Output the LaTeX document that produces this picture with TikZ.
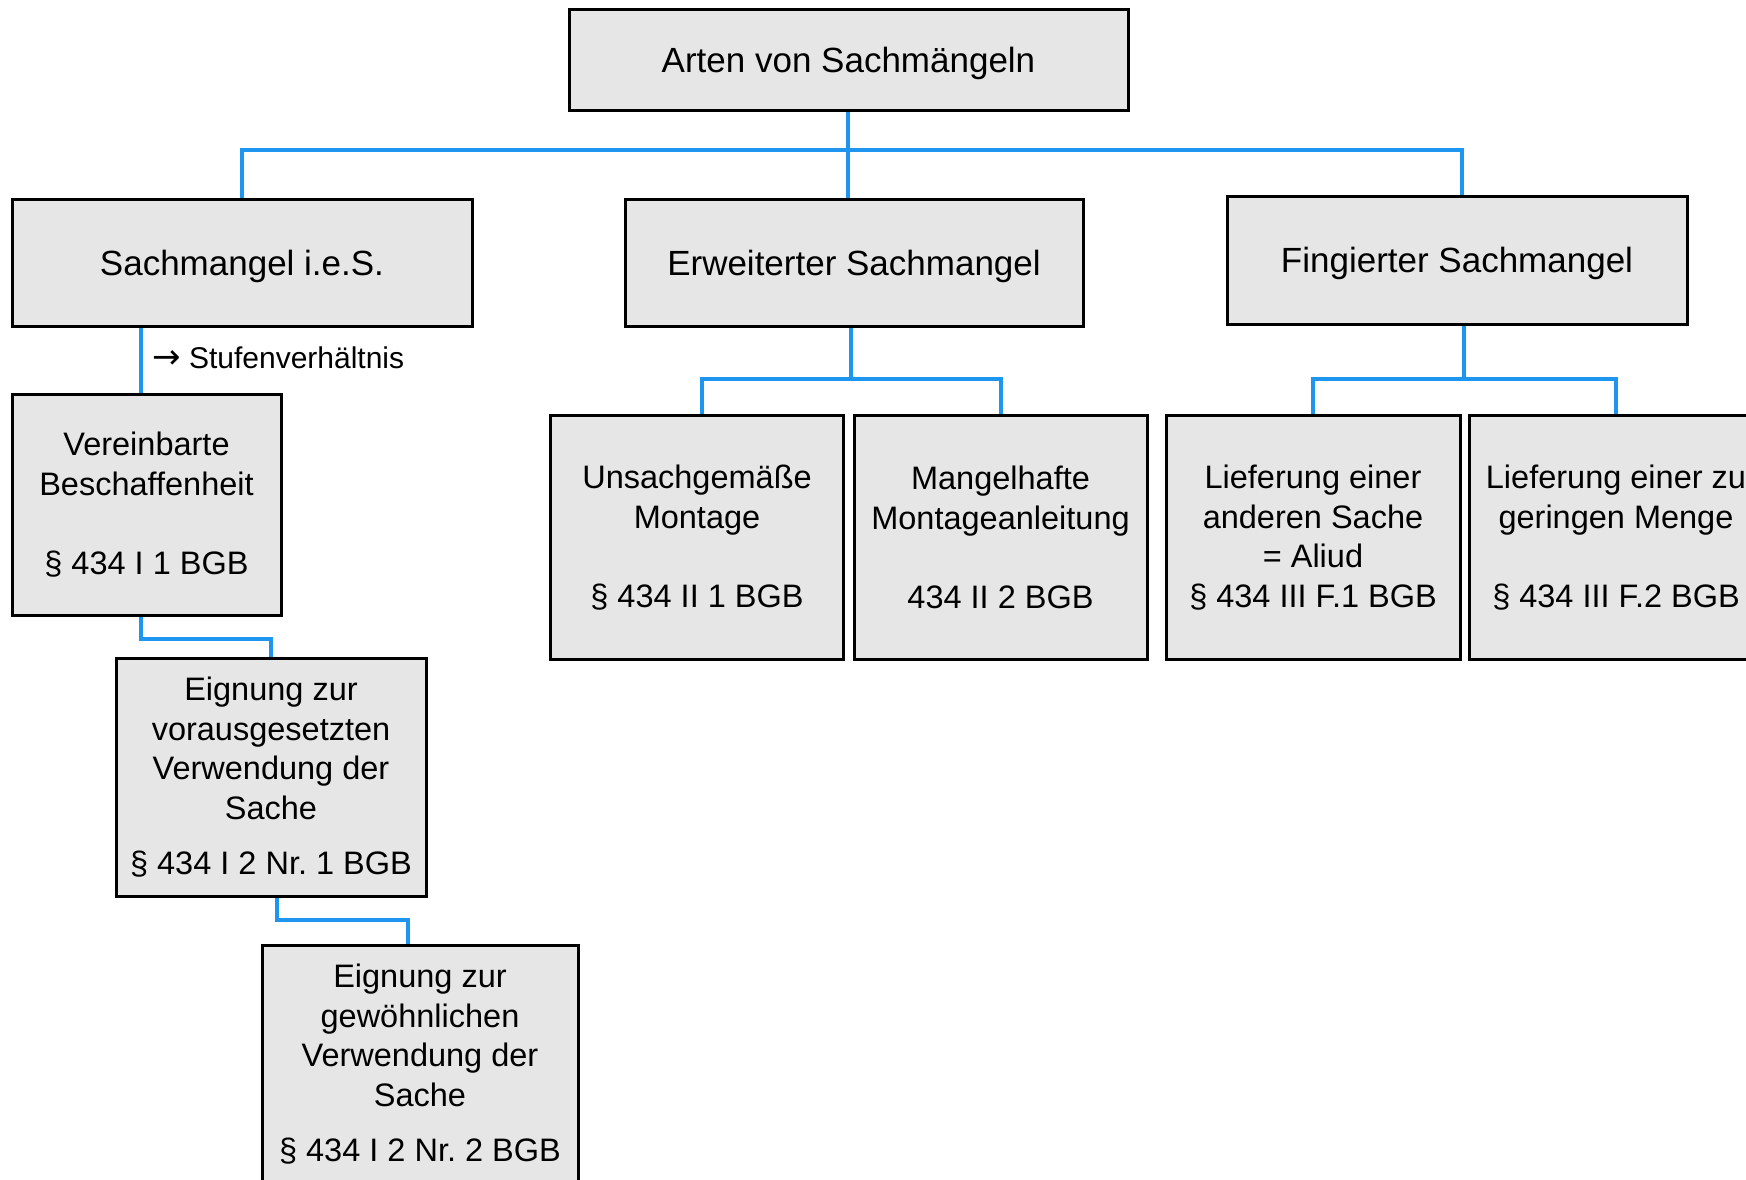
\documentclass[tikz,border=0pt]{standalone}
\usepackage{fontspec}
\setmainfont{Liberation Sans}
\newfontfamily\arrowfont{DejaVu Sans}
\usepackage{tikz}
\usetikzlibrary{positioning}
\usepackage{xcolor}
\frenchspacing
\definecolor{linkblue}{RGB}{30,150,240}
\definecolor{boxgray}{RGB}{230,230,230}
\tikzset{
  box/.style={draw=black, fill=boxgray, line width=3pt, inner sep=0pt, align=center},
  headbox/.style={box, font=\fontsize{35}{42}\selectfont, text depth=0pt},
  subbox/.style={box, font=\fontsize{32.5}{39.5}\selectfont},
  link/.style={draw=linkblue, line width=4pt},
  note/.style={font=\fontsize{30}{36}\selectfont, inner sep=0pt}
}
\newcommand{\sachbox}[7]{%
  % #1 style, #2 name, #3 x, #4 y, #5 width, #6 height, #7 text
  \node[#1, minimum width=#5, minimum height=#6] (#2) at (#3,#4) {#7};
}

\begin{document}
\begin{tikzpicture}[x=1pt, y=-1pt]
  \useasboundingbox (0,0) rectangle (1746,1179);
  % top level
  \sachbox{headbox}{top}{848.5}{59.5}{559}{101}{Arten von Sachmängeln}
  \sachbox{headbox}{sie}{242}{262.5}{460}{127}{Sachmangel i.e.S.}
  \sachbox{headbox}{erw}{854}{262.5}{458}{127}{Erweiterter Sachmangel}
  \sachbox{headbox}{fing}{1457}{260}{460}{128}{Fingierter Sachmangel}
  % left stack
  \sachbox{subbox}{ver}{146.5}{504.5}{269}{221}{Vereinbarte\\Beschaffenheit\\[39.5pt]§ 434 I 1 BGB}
  \sachbox{subbox}{eig1}{271}{777.5}{310}{238}{Eignung zur\\vorausgesetzten\\Verwendung der\\Sache\\[16pt]§ 434 I 2 Nr. 1 BGB}
  \sachbox{subbox}{eig2}{420}{1064.5}{316}{239}{Eignung zur\\gewöhnlichen\\Verwendung der\\Sache\\[16pt]§ 434 I 2 Nr. 2 BGB}
  % middle and right
  \sachbox{subbox}{uns}{697}{537.5}{293}{244}{Unsachgemäße\\Montage\\[39.5pt]§ 434 II 1 BGB}
  \sachbox{subbox}{mang}{1000.5}{537.5}{293}{244}{Mangelhafte\\Montageanleitung\\[39.5pt]434 II 2 BGB}
  \sachbox{subbox}{lief1}{1313}{537.5}{294}{244}{Lieferung einer\\anderen Sache\\= Aliud\\§ 434 III F.1 BGB}
  \sachbox{subbox}{lief2}{1616}{537.5}{294}{244}{Lieferung einer zu\\geringen Menge\\[39.5pt]§ 434 III F.2 BGB}
  \node[note, anchor=base west] (stufe) at (152,368) {{\arrowfont\fontsize{34}{36}\selectfont →} Stufenverhältnis};
  % connectors
  \coordinate (bus) at (848,150);
  \coordinate (erwbar) at (851,379);
  \coordinate (fingbar) at (1464,379);
  \draw[link] (top.south -| bus) -- (bus |- erw.north);
  \draw[link] (sie.north) |- (bus) -| ([xshift=5pt]fing.north);
  \draw[link] (sie.south -| stufe.west) ++(-11,0) coordinate (siestem) -- (siestem |- ver.north);
  \draw[link] (siestem |- ver.south) -- ++(0,22) -| (eig1.north);
  \draw[link] ([xshift=6pt]eig1.south) -- ++(0,22) -| ([xshift=-12pt]eig2.north);
  \draw[link] (erw.south -| erwbar) -- (erwbar);
  \draw[link] ([xshift=5pt]uns.north) |- (erwbar) -| (mang.north);
  \draw[link] (fing.south -| fingbar) -- (fingbar);
  \draw[link] (lief1.north) |- (fingbar) -| (lief2.north);
\end{tikzpicture}
\end{document}
